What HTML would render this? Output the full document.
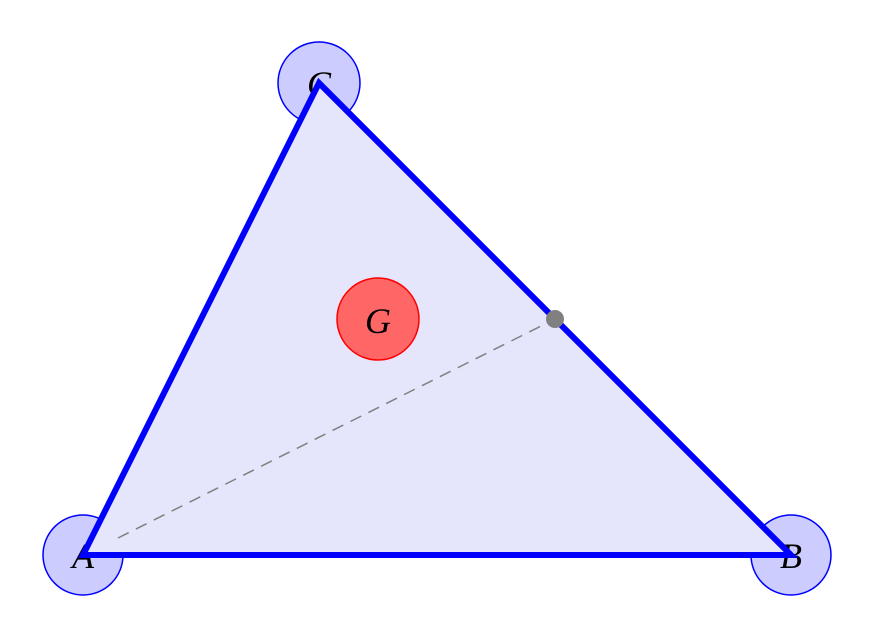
<!DOCTYPE html>
<html><head><style>html,body{margin:0;padding:0;background:#fff}</style></head>
<body>
<svg width="876" height="640" viewBox="0 0 876 640" xmlns="http://www.w3.org/2000/svg" style="display:block">
<g fill="#ccccff" stroke="#0000ff" stroke-width="1.5">
<circle cx="83" cy="555" r="40"/>
<circle cx="791" cy="555" r="40"/>
<circle cx="319" cy="83" r="41"/>
</g>
<g font-family="Liberation Serif, serif" font-style="italic" font-size="36" text-anchor="middle">
<text x="83" y="568">A</text>
<text x="791" y="568">B</text>
<text x="319" y="96">C</text>
</g>
<polygon points="83,555 791,555 319,83" fill="#e5e5fc" stroke="#0000ff" stroke-width="6" stroke-linejoin="miter"/>
<line x1="118" y1="538" x2="555" y2="319" stroke="#808080" stroke-width="1.5" stroke-dasharray="12,8"/>
<circle cx="378" cy="319" r="41" fill="#ff6666" stroke="#ff0000" stroke-width="1.5"/>
<text x="378" y="333" font-family="Liberation Serif, serif" font-style="italic" font-size="36" text-anchor="middle">G</text>
<circle cx="555" cy="319" r="9" fill="#808080"/>
</svg>
</body></html>
